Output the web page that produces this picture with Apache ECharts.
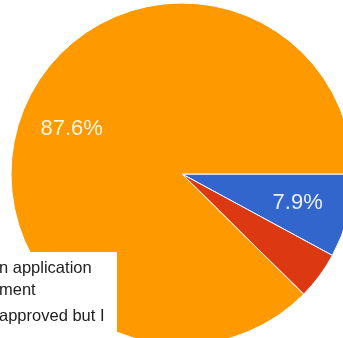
<!DOCTYPE html>
<html>
<head>
<meta charset="utf-8">
<script src="https://cdn.jsdelivr.net/npm/echarts@6/dist/echarts.min.js"></script>
<style>
  html, body { margin: 0; padding: 0; background: #fff; }
  #main { width: 343px; height: 338px; }
</style>
</head>
<body>
<div id="main"></div>
<script>
var sliceNames = ['Approved', 'Rejected', 'Pending'];
var sliceValues = [7.9, 4.5, 87.6];
var sliceColors = ['#3366cc', '#dc3912', '#ff9900'];
// legend text, as far as it shows at the lower left
var legendLines = [
    ['n application', 'ment'],
    ['approved but I']
];

var dom = document.getElementById('main');
var myChart = echarts.init(dom);

var pieData = sliceNames.map(function (n, i) {
    return { name: n, value: sliceValues[i], itemStyle: { color: sliceColors[i] } };
});

var R = 171;
var graphics = [{
    type: 'rect',
    shape: { x: 0, y: 252, width: 117, height: 100 },
    style: { fill: '#fff' },
    z: 100
}];
var y = 277;
legendLines.forEach(function (item) {
    item.forEach(function (line) {
        graphics.push({
            type: 'text',
            x: -1, y: y,
            style: {
                text: line,
                fill: '#222',
                font: '16.5px "Liberation Sans", Arial, sans-serif',
                textVerticalAlign: 'bottom'
            },
            z: 101
        });
        y += 22;
    });
    y += 4;
});

option = {
    animation: false,
    series: [
        {
            name: 'slices',
            type: 'pie',
            center: [182, 174],
            radius: [0, R],
            startAngle: 0,
            clockwise: true,
            silent: true,
            label: { show: false },
            labelLine: { show: false },
            itemStyle: { borderColor: '#fff', borderWidth: 1 },
            data: pieData
        },
        {
            // transparent ring, only to put the percent labels where google puts them
            name: 'labels',
            type: 'pie',
            center: [182, 174],
            radius: [R * 0.36, R],
            startAngle: 0,
            clockwise: true,
            silent: true,
            itemStyle: { color: 'rgba(0,0,0,0)' },
            label: {
                show: true,
                position: 'inside',
                color: 'rgba(255,255,255,0.9)',
                fontFamily: '"Liberation Sans", Arial, sans-serif',
                fontSize: 22,
                formatter: function (p) {
                    return p.value >= 5 ? p.value.toFixed(1) + '%' : '';
                }
            },
            labelLine: { show: false },
            data: pieData.map(function (d) { return { name: d.name, value: d.value }; })
        }
    ],
    graphic: graphics
};

if (option && typeof option === "object") {
    myChart.setOption(option, true);
}
</script>
</body>
</html>
